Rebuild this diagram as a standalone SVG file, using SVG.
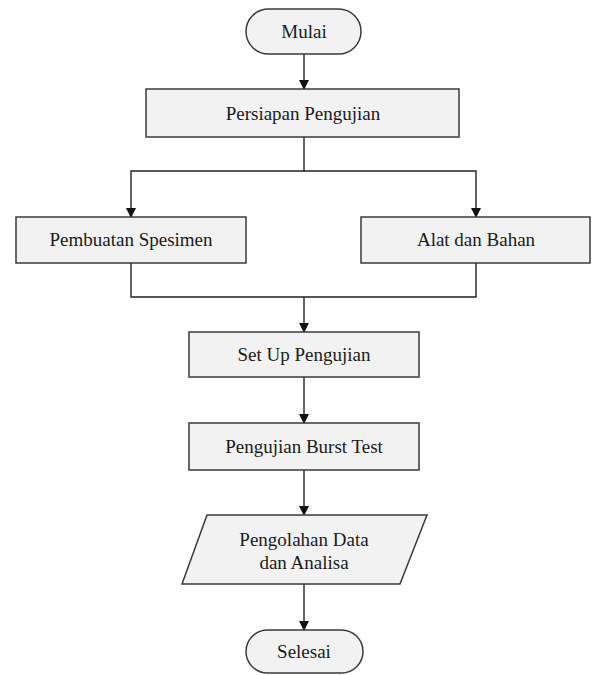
<svg xmlns="http://www.w3.org/2000/svg" width="593" height="675" viewBox="0 0 593 675">
<style>
.n{fill:#f2f2f2;stroke:#3a3a3a;stroke-width:1.5}
.t{font-family:"Liberation Serif","Times New Roman",serif;font-size:19px;fill:#1a1a1a;text-anchor:middle}
.c{fill:none;stroke:#222;stroke-width:1.4}
</style>
<defs>
<marker id="ah" markerWidth="10" markerHeight="10" refX="9" refY="5" orient="auto" markerUnits="userSpaceOnUse">
<path d="M0,0 L10,5 L0,10 Z" fill="#111"/>
</marker>
</defs>
<rect width="593" height="675" fill="#fff"/>
<g id="connectors">
<line class="c" x1="304" y1="54" x2="304" y2="89" marker-end="url(#ah)"/>
<polyline class="c" points="304,137 304,171 131,171 131,217" marker-end="url(#ah)"/>
<polyline class="c" points="304,171 476,171 476,217" marker-end="url(#ah)"/>
<polyline class="c" points="131,263 131,297 476,297 476,263"/>
<line class="c" x1="304" y1="297" x2="304" y2="332" marker-end="url(#ah)"/>
<line class="c" x1="304" y1="377" x2="304" y2="423" marker-end="url(#ah)"/>
<line class="c" x1="304" y1="470" x2="304" y2="515" marker-end="url(#ah)"/>
<line class="c" x1="304" y1="584" x2="304" y2="630" marker-end="url(#ah)"/>
</g>
<g id="mulai">
<rect class="n" x="246" y="9" width="115" height="45" rx="22.5"/>
<text class="t" x="304" y="38">Mulai</text>
</g>
<g id="persiapan">
<rect class="n" x="146" y="89" width="313" height="48"/>
<text class="t" x="303" y="120">Persiapan Pengujian</text>
</g>
<g id="pembuatan">
<rect class="n" x="16" y="217" width="230" height="46"/>
<text class="t" x="131" y="246">Pembuatan Spesimen</text>
</g>
<g id="alat">
<rect class="n" x="361" y="217" width="229" height="46"/>
<text class="t" x="476" y="246">Alat dan Bahan</text>
</g>
<g id="setup">
<rect class="n" x="189" y="332" width="230" height="45"/>
<text class="t" x="304" y="361">Set Up Pengujian</text>
</g>
<g id="burst">
<rect class="n" x="189" y="423" width="230" height="47"/>
<text class="t" x="304" y="453">Pengujian Burst Test</text>
</g>
<g id="pengolahan">
<polygon class="n" points="207,515 427,515 400,584 182,584"/>
<text class="t" x="304" y="546">Pengolahan Data</text>
<text class="t" x="304" y="569">dan Analisa</text>
</g>
<g id="selesai">
<rect class="n" x="246" y="630" width="117" height="43" rx="21.5"/>
<text class="t" x="304" y="658">Selesai</text>
</g>
</svg>
